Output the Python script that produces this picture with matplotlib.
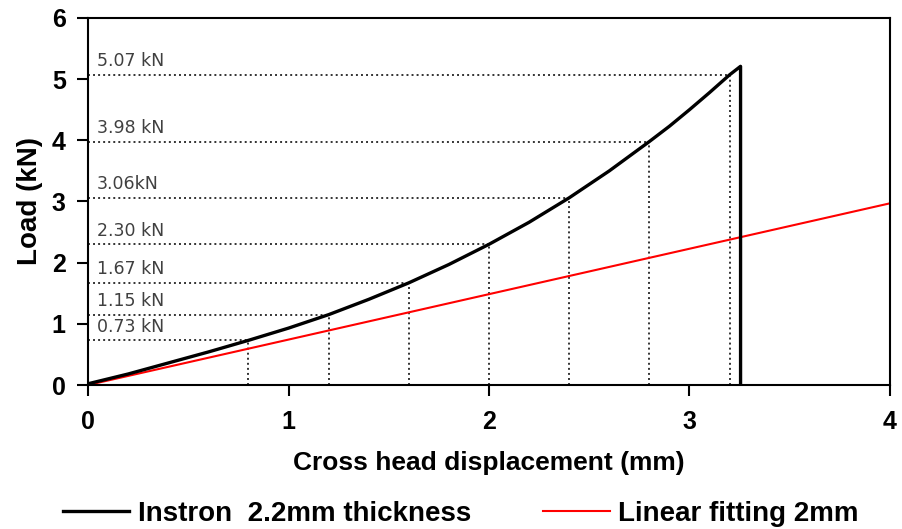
import matplotlib
matplotlib.use("Agg")
import matplotlib.pyplot as plt

# Instron load-displacement curve (mm, kN)
disp = [0.0, 0.2, 0.4, 0.6, 0.8, 1.0, 1.2, 1.4, 1.6, 1.8, 2.0, 2.2, 2.4,
        2.6, 2.8, 2.9, 3.0, 3.1, 3.2, 3.255, 3.255]
load = [0.02, 0.18, 0.36, 0.54, 0.73, 0.93, 1.15, 1.40, 1.67, 1.97, 2.30,
        2.66, 3.06, 3.50, 3.98, 4.23, 4.50, 4.78, 5.07, 5.21, 0.0]

# linear fit
fit_x = [0.0, 4.0]
fit_y = [0.0, 2.97]

# marked readings
mark_x = [0.8, 1.2, 1.6, 2.0, 2.4, 2.8, 3.2]
mark_y = [0.73, 1.15, 1.67, 2.30, 3.06, 3.98, 5.07]
mark_sep = [" ", " ", " ", " ", "", " ", " "]

plt.rcParams["font.family"] = ["Liberation Sans", "DejaVu Sans"]

fig = plt.figure(figsize=(9.03, 5.29), dpi=100)
ax = fig.add_axes([0.0975, 0.2722, 0.888, 0.6938])

for x, y, sep in zip(mark_x, mark_y, mark_sep):
    ax.plot([0, x], [y, y], color="#333333", lw=1.4, ls=(0, (1, 1.6)), zorder=1)
    ax.plot([x, x], [0, y], color="#333333", lw=1.4, ls=(0, (1, 1.6)), zorder=1)
    ax.text(0.045, y + 0.22, f"{y:.2f}{sep}kN", fontsize=12.5, color="#404040",
            family="DejaVu Sans", va="center", ha="left")

ax.plot(disp, load, color="black", lw=2.4, label="Instron  2.2mm thickness", zorder=3)
ax.plot(fit_x, fit_y, color="red", lw=1.5, label="Linear fitting 2mm", zorder=2)

ax.set_xlim(0, 4)
ax.set_ylim(0, 6)
ax.set_xticks([0, 1, 2, 3, 4])
ax.set_yticks([0, 1, 2, 3, 4, 5, 6])
ax.tick_params(direction="out", length=8, width=1.5, labelsize=18)
ax.tick_params(axis="x", pad=10)
ax.tick_params(axis="y", pad=8)
for lab in ax.get_xticklabels() + ax.get_yticklabels():
    lab.set_fontweight("bold")
for sp in ax.spines.values():
    sp.set_linewidth(1.5)

ax.set_xlabel("Cross head displacement (mm)", fontsize=19, fontweight="bold", labelpad=12)
ax.set_ylabel("Load (kN)", fontsize=20, fontweight="bold", labelpad=6)

leg = fig.legend(loc="center", bbox_to_anchor=(0.51, 0.028), ncol=2, frameon=False,
                 prop={"size": 20, "weight": "bold"}, handlelength=2.4,
                 columnspacing=2.6, handletextpad=0.3)

fig.savefig("out.png", dpi=100)
